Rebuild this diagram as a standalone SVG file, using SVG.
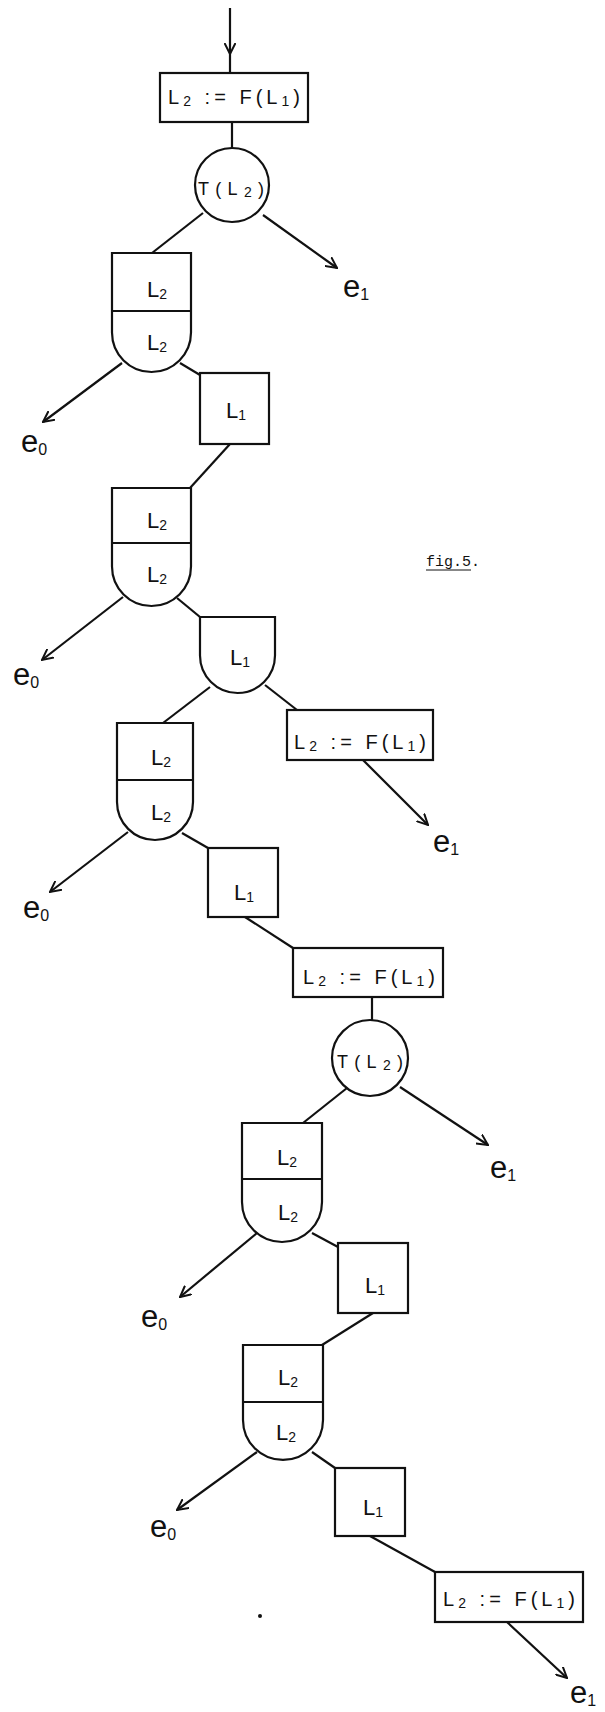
<svg xmlns="http://www.w3.org/2000/svg" width="605" height="1712" viewBox="0 0 605 1712">
<style>
.n{fill:none;stroke:#111;stroke-width:2.2}
.c{fill:none;stroke:#111;stroke-width:2.2}
.t{font-family:"Liberation Sans",Arial,sans-serif;font-size:22px;fill:#111;text-anchor:middle}
.b{font-family:"Liberation Sans",Arial,sans-serif;font-size:20px;fill:#111;text-anchor:middle}
.f{font-family:"Liberation Sans",Arial,sans-serif;font-size:18px;fill:#111;text-anchor:middle}
.e{font-family:"Liberation Sans",Arial,sans-serif;font-size:31px;fill:#111}
.s{font-size:14px}
.es{font-size:16px}
.fig{font-family:"Liberation Mono","Courier New",monospace;font-size:15px;fill:#111}
</style>
<defs>
<marker id="ah" viewBox="0 0 12 12" markerWidth="12" markerHeight="12" refX="11" refY="6" orient="auto" markerUnits="userSpaceOnUse">
<path d="M0,0.5 L11,6 L0,11.5" fill="none" stroke="#111" stroke-width="2"/>
</marker>
</defs>
<rect width="605" height="1712" fill="#fff"/>
<g id="connectors">
<line class="c" x1="230" y1="8" x2="230" y2="54" marker-end="url(#ah)"/>
<line class="c" x1="230" y1="54" x2="230" y2="73"/>
<line class="c" x1="232" y1="122" x2="232" y2="148"/>
<line class="c" x1="203" y1="213" x2="152" y2="253"/>
<line class="c" x1="263" y1="215" x2="337" y2="268" marker-end="url(#ah)"/>
<line class="c" x1="122" y1="363" x2="43" y2="422" marker-end="url(#ah)"/>
<line class="c" x1="180" y1="363" x2="200" y2="375"/>
<line class="c" x1="230" y1="444" x2="190" y2="488"/>
<line class="c" x1="123" y1="597" x2="42" y2="660" marker-end="url(#ah)"/>
<line class="c" x1="177" y1="598" x2="200" y2="617"/>
<line class="c" x1="210" y1="687" x2="163" y2="723"/>
<line class="c" x1="265" y1="685" x2="297" y2="710"/>
<line class="c" x1="363" y1="760" x2="428" y2="825" marker-end="url(#ah)"/>
<line class="c" x1="128" y1="832" x2="50" y2="892" marker-end="url(#ah)"/>
<line class="c" x1="182" y1="833" x2="208" y2="848"/>
<line class="c" x1="245" y1="917" x2="293" y2="948"/>
<line class="c" x1="372" y1="997" x2="372" y2="1020"/>
<line class="c" x1="347" y1="1088" x2="303" y2="1123"/>
<line class="c" x1="400" y1="1087" x2="488" y2="1145" marker-end="url(#ah)"/>
<line class="c" x1="257" y1="1233" x2="180" y2="1297" marker-end="url(#ah)"/>
<line class="c" x1="312" y1="1233" x2="338" y2="1247"/>
<line class="c" x1="373" y1="1313" x2="322" y2="1345"/>
<line class="c" x1="257" y1="1452" x2="177" y2="1510" marker-end="url(#ah)"/>
<line class="c" x1="312" y1="1452" x2="335" y2="1468"/>
<line class="c" x1="370" y1="1536" x2="435" y2="1572"/>
<line class="c" x1="507" y1="1622" x2="567" y2="1678" marker-end="url(#ah)"/>
</g>
<g id="A1">
<rect class="n" x="160" y="73" width="148" height="49"/>
<text class="b" x="234" y="104" textLength="132" lengthAdjust="spacing">L<tspan class="s" dy="2">2</tspan><tspan dy="-2"> := F(L</tspan><tspan class="s" dy="2">1</tspan><tspan dy="-2">)</tspan></text>
</g>
<g id="C1">
<circle class="n" cx="232" cy="185" r="37"/>
<text class="f" x="231" y="195" textLength="66" lengthAdjust="spacing">T(L<tspan class="s" dy="2">2</tspan><tspan dy="-2">)</tspan></text>
</g>
<g id="S1">
<path class="n" d="M112,253 H191 V332.5 A39.5,39.5 0 0 1 112,332.5 Z"/>
<line class="n" x1="112" y1="311" x2="191" y2="311"/>
<text class="t" x="157" y="297">L<tspan class="s" dy="2">2</tspan></text>
<text class="t" x="157" y="350">L<tspan class="s" dy="2">2</tspan></text>
</g>
<g id="B1">
<rect class="n" x="200" y="373" width="69" height="71"/>
<text class="t" x="236" y="418">L<tspan class="s" dy="2">1</tspan></text>
</g>
<g id="S2">
<path class="n" d="M112,488 H191 V566.5 A39.5,39.5 0 0 1 112,566.5 Z"/>
<line class="n" x1="112" y1="543" x2="191" y2="543"/>
<text class="t" x="157" y="528">L<tspan class="s" dy="2">2</tspan></text>
<text class="t" x="157" y="582">L<tspan class="s" dy="2">2</tspan></text>
</g>
<g id="D1">
<path class="n" d="M200,617 H275 V655.5 A37.5,37.5 0 0 1 200,655.5 Z"/>
<text class="t" x="240" y="665">L<tspan class="s" dy="2">1</tspan></text>
</g>
<g id="A2">
<rect class="n" x="287" y="710" width="146" height="50"/>
<text class="b" x="360" y="749" textLength="132" lengthAdjust="spacing">L<tspan class="s" dy="2">2</tspan><tspan dy="-2"> := F(L</tspan><tspan class="s" dy="2">1</tspan><tspan dy="-2">)</tspan></text>
</g>
<g id="S3">
<path class="n" d="M117,723 H193 V802 A38,38 0 0 1 117,802 Z"/>
<line class="n" x1="117" y1="780" x2="193" y2="780"/>
<text class="t" x="161" y="765">L<tspan class="s" dy="2">2</tspan></text>
<text class="t" x="161" y="820">L<tspan class="s" dy="2">2</tspan></text>
</g>
<g id="B2">
<rect class="n" x="208" y="848" width="70" height="69"/>
<text class="t" x="244" y="900">L<tspan class="s" dy="2">1</tspan></text>
</g>
<g id="A3">
<rect class="n" x="293" y="948" width="150" height="49"/>
<text class="b" x="369" y="984" textLength="132" lengthAdjust="spacing">L<tspan class="s" dy="2">2</tspan><tspan dy="-2"> := F(L</tspan><tspan class="s" dy="2">1</tspan><tspan dy="-2">)</tspan></text>
</g>
<g id="C2">
<circle class="n" cx="370" cy="1058" r="38"/>
<text class="f" x="370" y="1068" textLength="66" lengthAdjust="spacing">T(L<tspan class="s" dy="2">2</tspan><tspan dy="-2">)</tspan></text>
</g>
<g id="S4">
<path class="n" d="M242,1123 H322 V1202 A40,40 0 0 1 242,1202 Z"/>
<line class="n" x1="242" y1="1179" x2="322" y2="1179"/>
<text class="t" x="287" y="1165">L<tspan class="s" dy="2">2</tspan></text>
<text class="t" x="288" y="1220">L<tspan class="s" dy="2">2</tspan></text>
</g>
<g id="B3">
<rect class="n" x="338" y="1243" width="70" height="70"/>
<text class="t" x="375" y="1293">L<tspan class="s" dy="2">1</tspan></text>
</g>
<g id="S5">
<path class="n" d="M243,1345 H323 V1420 A40,40 0 0 1 243,1420 Z"/>
<line class="n" x1="243" y1="1402" x2="323" y2="1402"/>
<text class="t" x="288" y="1385">L<tspan class="s" dy="2">2</tspan></text>
<text class="t" x="286" y="1440">L<tspan class="s" dy="2">2</tspan></text>
</g>
<g id="B4">
<rect class="n" x="335" y="1468" width="70" height="68"/>
<text class="t" x="373" y="1515">L<tspan class="s" dy="2">1</tspan></text>
</g>
<g id="A4">
<rect class="n" x="435" y="1572" width="148" height="50"/>
<text class="b" x="509" y="1606" textLength="132" lengthAdjust="spacing">L<tspan class="s" dy="2">2</tspan><tspan dy="-2"> := F(L</tspan><tspan class="s" dy="2">1</tspan><tspan dy="-2">)</tspan></text>
</g>
<g id="labels">
<text class="e" x="343" y="297">e<tspan class="es" dy="3">1</tspan></text>
<text class="e" x="21" y="452">e<tspan class="es" dy="3">0</tspan></text>
<text class="e" x="13" y="685">e<tspan class="es" dy="3">0</tspan></text>
<text class="e" x="433" y="852">e<tspan class="es" dy="3">1</tspan></text>
<text class="e" x="23" y="918">e<tspan class="es" dy="3">0</tspan></text>
<text class="e" x="490" y="1178">e<tspan class="es" dy="3">1</tspan></text>
<text class="e" x="141" y="1327">e<tspan class="es" dy="3">0</tspan></text>
<text class="e" x="150" y="1537">e<tspan class="es" dy="3">0</tspan></text>
<text class="e" x="570" y="1703">e<tspan class="es" dy="3">1</tspan></text>
<text class="fig" x="426" y="566">fig.5.</text>
<line x1="426" y1="570" x2="471" y2="570" stroke="#111" stroke-width="1"/>
<circle cx="260" cy="1616" r="2" fill="#111"/>
</g>
</svg>
